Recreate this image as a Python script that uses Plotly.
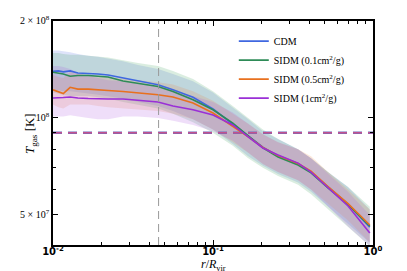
import plotly.graph_objects as go

# ---- data ----
r = [0.0100, 0.0108, 0.0116, 0.0128, 0.0143, 0.0166, 0.0191, 0.0221, 0.0274, 0.0340, 0.0453, 0.0562,
     0.0750, 0.100, 0.133, 0.166, 0.205, 0.255, 0.340, 0.410, 0.523, 0.698, 0.955]

cdm = [1.396, 1.40, 1.39, 1.40, 1.379, 1.375, 1.369, 1.359, 1.330, 1.302, 1.268, 1.223,
       1.159, 1.066, 0.957, 0.879, 0.812, 0.761, 0.719, 0.679, 0.610, 0.540, 0.458]
cdm_hi = [1.62, 1.62, 1.61, 1.60, 1.58, 1.56, 1.55, 1.53, 1.50, 1.46, 1.42, 1.37,
          1.30, 1.20, 1.08, 0.99, 0.91, 0.86, 0.80, 0.75, 0.68, 0.61, 0.52]
cdm_lo = [1.22, 1.22, 1.21, 1.21, 1.20, 1.19, 1.18, 1.17, 1.15, 1.12, 1.09, 1.05,
          0.99, 0.92, 0.83, 0.76, 0.71, 0.67, 0.63, 0.59, 0.53, 0.47, 0.41]

s01 = [1.386, 1.379, 1.369, 1.347, 1.355, 1.355, 1.350, 1.340, 1.302, 1.279, 1.252, 1.209,
       1.139, 1.060, 0.964, 0.879, 0.807, 0.756, 0.714, 0.675, 0.606, 0.538, 0.462]
s01_hi = [1.59, 1.59, 1.58, 1.57, 1.57, 1.56, 1.55, 1.54, 1.51, 1.48, 1.45, 1.40,
          1.32, 1.21, 1.09, 1.00, 0.92, 0.86, 0.80, 0.75, 0.68, 0.61, 0.53]
s01_lo = [1.20, 1.19, 1.18, 1.17, 1.17, 1.17, 1.16, 1.15, 1.12, 1.10, 1.07, 1.03,
          0.97, 0.90, 0.82, 0.75, 0.70, 0.66, 0.62, 0.58, 0.52, 0.46, 0.40]

s05 = [1.223, 1.204, 1.191, 1.245, 1.229, 1.229, 1.225, 1.217, 1.208, 1.195, 1.181, 1.161,
       1.112, 1.036, 0.942, 0.873, 0.810, 0.764, 0.722, 0.684, 0.612, 0.542, 0.465]
s05_hi = [1.36, 1.34, 1.33, 1.39, 1.37, 1.36, 1.35, 1.34, 1.33, 1.31, 1.29, 1.27,
          1.21, 1.13, 1.03, 0.96, 0.89, 0.84, 0.80, 0.76, 0.68, 0.60, 0.52]
s05_lo = [1.10, 1.08, 1.07, 1.10, 1.10, 1.10, 1.09, 1.08, 1.07, 1.06, 1.05, 1.03,
          0.99, 0.92, 0.84, 0.78, 0.72, 0.68, 0.64, 0.60, 0.54, 0.48, 0.41]

s1 = [1.153, 1.153, 1.157, 1.161, 1.153, 1.149, 1.145, 1.145, 1.145, 1.137, 1.121, 1.089,
      1.060, 1.021, 0.951, 0.873, 0.807, 0.767, 0.724, 0.679, 0.606, 0.533, 0.439]
s1_hi = [1.45, 1.45, 1.44, 1.42, 1.38, 1.35, 1.33, 1.31, 1.30, 1.28, 1.25, 1.21,
         1.17, 1.12, 1.04, 0.96, 0.89, 0.84, 0.80, 0.75, 0.67, 0.59, 0.50]
s1_lo = [1.01, 1.01, 1.01, 1.02, 1.01, 1.00, 0.99, 0.99, 1.01, 1.01, 1.00, 0.98,
         0.95, 0.91, 0.85, 0.78, 0.72, 0.68, 0.64, 0.60, 0.53, 0.46, 0.40]

unit = 1e8  # values above are in units of 1e8 K
names = ["CDM", "SIDM (0.1cm<sup>2</sup>/g)", "SIDM (0.5cm<sup>2</sup>/g)", "SIDM (1cm<sup>2</sup>/g)"]
r_cut = 0.0457
T_ref = 9.0e7

y_tickvals = [5e7, 1e8, 2e8]
y_ticktext = ["5 × 10<sup>7</sup>", "10<sup>8</sup>", "2 × 10<sup>8</sup>"]
y_minor = [6e7, 7e7, 8e7, 9e7]
x_tickvals = [0.01, 0.1, 1.0]
x_ticktext = ["<b>10<sup>-2</sup></b>", "<b>10<sup>-1</sup></b>", "<b>10<sup>0</sup></b>"]
x_minor = [k * 0.01 for k in range(2, 10)] + [k * 0.1 for k in range(2, 10)]

lines_col = ["#3f67e0", "#2e8b57", "#e8701e", "#9a2fd6"]
fill_col = ["rgba(90,115,230,0.20)", "rgba(70,165,100,0.20)", "rgba(240,130,60,0.18)", "rgba(175,90,225,0.20)"]

series = [(cdm, cdm_hi, cdm_lo), (s01, s01_hi, s01_lo), (s05, s05_hi, s05_lo), (s1, s1_hi, s1_lo)]

fig = go.Figure()
for (c, hi, lo), fc in zip(series, fill_col):
    fig.add_trace(go.Scatter(x=r + r[::-1], y=[v * unit for v in hi] + [v * unit for v in lo[::-1]],
                             fill="toself", fillcolor=fc, line=dict(width=0), mode="lines",
                             showlegend=False, hoverinfo="skip"))

# reference dashed lines
fig.add_trace(go.Scatter(x=[0.01, 1.0], y=[T_ref, T_ref], mode="lines",
                         line=dict(color="#6a70c0", width=2.6, dash="9px,6px"), showlegend=False))
fig.add_trace(go.Scatter(x=[0.01, 1.0], y=[T_ref, T_ref], mode="lines",
                         line=dict(color="#c2508e", width=1.4, dash="9px,6px"), showlegend=False))

for (c, hi, lo), lc, nm in zip(series, lines_col, names):
    fig.add_trace(go.Scatter(x=r, y=[v * unit for v in c], mode="lines", name=nm,
                             line=dict(color=lc, width=1.6)))

fig.add_shape(type="line", xref="x", yref="paper", x0=r_cut, x1=r_cut, y0=0, y1=1,
              line=dict(color="#999999", width=1, dash="8px,5px"))

fig.add_annotation(text="<i>T</i><sub>gas</sub> [K]", xref="paper", yref="paper",
                   x=-0.072, y=0.5, xanchor="center", yanchor="middle", textangle=-90,
                   showarrow=False, font=dict(family="Liberation Serif", size=13))
fig.add_annotation(text="<i>r</i>/<i>R</i><sub>vir</sub>", xref="paper", yref="paper",
                   x=0.5, y=-0.088, xanchor="center", yanchor="middle", showarrow=False,
                   font=dict(family="Liberation Serif", size=12))

fig.update_layout(
    width=407, height=271,
    margin=dict(l=45, r=42, t=13, b=34),
    paper_bgcolor="white", plot_bgcolor="white",
    font=dict(family="Liberation Serif", size=10, color="black"),
    showlegend=True,
    legend=dict(x=0.565, y=0.975, xanchor="left", yanchor="top", bgcolor="rgba(0,0,0,0)",
                font=dict(family="Liberation Serif", size=10), itemwidth=30, tracegroupgap=0),
    xaxis=dict(type="log", range=[-2, 0], showgrid=False, zeroline=False, automargin=False,
               showline=True, linecolor="black", linewidth=1.5, mirror="ticks",
               ticks="inside", ticklen=5, tickwidth=1, tickcolor="black",
               tickmode="array", tickvals=x_tickvals, ticktext=x_ticktext,
               ticklabelstandoff=-4,
               tickfont=dict(family="DejaVu Sans", size=10),
               minor=dict(ticks="inside", ticklen=3, tickwidth=1, tickcolor="black",
                          tickmode="array", tickvals=x_minor)),
    yaxis=dict(type="log", range=[7.6055, 8.301], showgrid=False, zeroline=False, automargin=False,
               showline=True, linecolor="black", linewidth=1.5, mirror="ticks",
               ticks="inside", ticklen=5, tickwidth=1, tickcolor="black",
               tickmode="array", tickvals=y_tickvals, ticktext=y_ticktext,
               tickfont=dict(family="Liberation Serif", size=10),
               minor=dict(ticks="inside", ticklen=3, tickwidth=1, tickcolor="black",
                          tickmode="array", tickvals=y_minor)),
)

fig.write_html("out.html")
